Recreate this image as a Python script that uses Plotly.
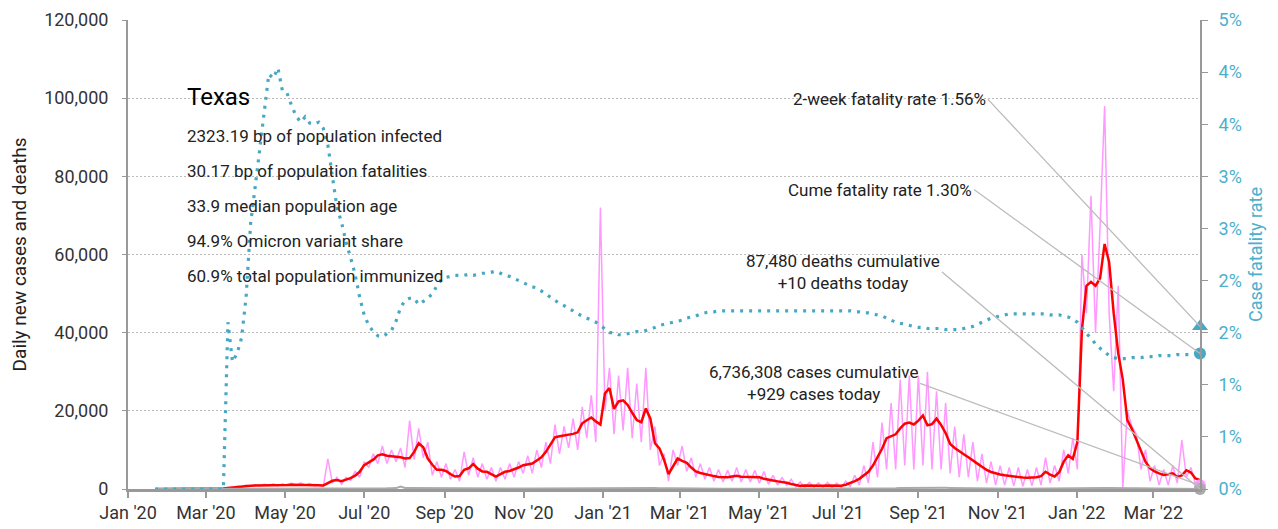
import pandas as pd
import plotly.graph_objects as go

FONT = "Roboto, Arial, sans-serif"
TEAL = "#46a8c4"
PINK = "#ff99ff"
RED = "#ff0000"
GRAY = "#aaaaaa"

# half-week grid starting Jan 22, 2020
START = "2020-01-22"
N_POINTS = 231

cases_raw = [
    0, 0, 0, 0, 0, 0, 0, 0, 0, 0,
    0, 0, 0, 20, 60, 150, 400, 350, 700, 600,
    1000, 700, 1100, 800, 1200, 900, 1300, 800, 1300, 900,
    1500, 900, 1600, 1000, 1400, 800, 1100, 700, 7700, 1500,
    3000, 1200, 3000, 2200, 4500, 3000, 7000, 5500, 9000, 6500,
    11000, 6500, 10000, 7000, 10500, 5500, 17500, 7500, 15500, 8000,
    12000, 3500, 7000, 3000, 6500, 2500, 5000, 2000, 9500, 3500,
    8000, 3000, 6500, 2500, 5500, 2000, 5500, 2500, 6500, 3000,
    7000, 4000, 8500, 4000, 10000, 5500, 12000, 6500, 16500, 9000,
    16000, 10500, 18000, 10000, 21000, 13000, 24000, 12000, 72000, 20000,
    31000, 14000, 29000, 15000, 31000, 13000, 27000, 12000, 31000, 10000,
    16000, 6000, 9000, 2000, 10000, 6000, 11000, 4500, 8000, 3000,
    6500, 2500, 5500, 2000, 5000, 1800, 4800, 2000, 5500, 1800,
    5000, 1800, 4800, 1500, 4500, 1200, 3500, 1000, 3000, 900,
    2500, 600, 1800, 400, 1700, 400, 1600, 400, 1700, 300,
    1500, 400, 2000, 600, 3500, 1000, 6000, 1500, 12000, 3000,
    17000, 5000, 22000, 5000, 28000, 6000, 29000, 5000, 29000, 6000,
    30000, 5000, 25000, 5000, 22000, 4000, 16000, 3000, 14000, 3000,
    12000, 2000, 9000, 1500, 7000, 1000, 6000, 1000, 5500, 800,
    5500, 700, 5000, 800, 5500, 1000, 8000, 1500, 6000, 2000,
    10000, 4000, 13000, 5000, 60000, 45000, 75000, 40000, 67000, 98000,
    45000, 25000, 52000, 0, 20000, 16000, 14000, 5000, 10000, 2000,
    6000, 1000, 5000, 1000, 6000, 1500, 12500, 3000, 5500, 1200,
    929,
]

cases_avg = [
    0, 0, 0, 0, 0, 0, 0, 0, 0, 0,
    0, 0, 0, 10, 30, 100, 250, 400, 550, 700,
    800, 850, 900, 900, 950, 1000, 1000, 1000, 1000, 1050,
    1100, 1100, 1100, 1100, 1100, 1000, 950, 900, 1500, 2100,
    2300, 2000, 2400, 2800, 3400, 4400, 6100, 6700, 7500, 8600,
    8900, 8500, 8400, 8300, 8100, 7800, 7900, 9500, 11700, 10700,
    7800, 6200, 4900, 4900, 4600, 3800, 3200, 3300, 4900, 5300,
    6400, 5200, 4500, 4400, 3700, 3200, 3800, 4400, 4600, 5000,
    5500, 6100, 6300, 6500, 7300, 8100, 9500, 11500, 13200, 13500,
    13700, 13900, 14100, 14500, 16800, 17600, 18300, 17300, 16500, 24500,
    25800, 20500, 22400, 22700, 21500, 19500, 17650, 17100, 20600, 18000,
    11700, 10400, 7500, 3800, 6000, 7800, 7200, 6700, 5500, 4500,
    4100, 3800, 3500, 3300, 3100, 3000, 3000, 3200, 3400, 3150,
    3100, 3000, 3000, 3000, 2600, 2300, 2150, 1950, 1800, 1600,
    1300, 1100, 800, 900, 850, 800, 780, 850, 900, 850,
    800, 850, 1100, 1500, 2000, 2600, 3400, 4400, 6000, 8000,
    10300, 13000, 13600, 14000, 15500, 16700, 17000, 16500, 17500, 18800,
    16300, 16600, 18000, 16400, 14300, 11500, 10500, 9600, 8900, 8100,
    7200, 6500, 5700, 4900, 4350, 4000, 3700, 3500, 3350, 3200,
    3000, 2950, 2900, 2900, 3000, 3300, 4400, 3700, 3200, 4300,
    7000, 8600, 7700, 12000, 40700, 52000, 53000, 52000, 53900, 62700,
    58000, 45000, 34700, 28000, 17650, 15400, 12500, 9500, 7000, 5300,
    4500, 4000, 3600, 3800, 4000, 3100, 3500, 4800, 4200, 2700,
    2300,
]

deaths = [
    0, 0, 0, 0, 0, 0, 0, 0, 0, 0,
    0, 0, 0, 0, 0, 0, 0, 2, 5, 8,
    12, 15, 18, 20, 22, 25, 25, 28, 30, 30,
    30, 30, 28, 28, 30, 30, 28, 25, 22, 20,
    20, 22, 25, 30, 40, 60, 80, 100, 120, 140,
    150, 170, 200, 230, 600, 260, 250, 240, 230, 230,
    220, 200, 180, 170, 150, 130, 110, 100, 90, 80,
    80, 70, 80, 90, 70, 70, 70, 60, 70, 80,
    80, 90, 90, 100, 120, 130, 150, 170, 200, 210,
    200, 210, 220, 230, 240, 260, 250, 270, 260, 250,
    300, 320, 340, 360, 380, 350, 330, 310, 300, 290,
    250, 220, 150, 200, 220, 190, 170, 140, 120, 100,
    90, 80, 70, 70, 60, 60, 50, 50, 45, 40,
    40, 40, 38, 35, 35, 32, 30, 30, 28, 25,
    25, 22, 20, 20, 18, 18, 18, 16, 15, 15,
    15, 15, 16, 18, 20, 25, 30, 40, 60, 80,
    100, 130, 170, 200, 250, 270, 280, 300, 320, 340,
    350, 300, 330, 400, 300, 280, 250, 220, 180, 160,
    150, 140, 120, 110, 100, 90, 80, 70, 60, 55,
    50, 50, 50, 45, 45, 45, 50, 55, 55, 60,
    60, 60, 50, 60, 80, 110, 130, 160, 200, 230,
    250, 270, 260, 250, 220, 200, 180, 160, 140, 110,
    90, 80, 70, 60, 50, 45, 40, 35, 30, 25,
    10,
]

cfr_pct = [
    0, 0, 0, 0, 0, 0, 0, 0, 0, 0,
    0, 0, 0, 0, 0, 0, 1.60, 1.22, 1.30, 1.45,
    1.84, 2.55, 2.90, 3.25, 3.65, 3.98, 3.94, 4.04, 3.82, 3.80,
    3.68, 3.58, 3.52, 3.57, 3.51, 3.50, 3.52, 3.46, 3.30, 2.98,
    2.70, 2.56, 2.37, 2.22, 2.06, 1.84, 1.67, 1.57, 1.51, 1.47,
    1.46, 1.49, 1.52, 1.61, 1.74, 1.81, 1.83, 1.83, 1.77, 1.80,
    1.84, 1.87, 1.95, 2.01, 2.03, 2.04, 2.05, 2.05, 2.05, 2.06,
    2.05, 2.06, 2.07, 2.07, 2.08, 2.09, 2.07, 2.05, 2.04, 2.02,
    2.00, 1.98, 1.96, 1.94, 1.93, 1.90, 1.87, 1.84, 1.81, 1.78,
    1.76, 1.73, 1.71, 1.68, 1.66, 1.64, 1.62, 1.60, 1.57, 1.53,
    1.50, 1.50, 1.48, 1.48, 1.49, 1.50, 1.51, 1.51, 1.52, 1.54,
    1.55, 1.57, 1.58, 1.59, 1.60, 1.61, 1.62, 1.64, 1.65, 1.66,
    1.68, 1.69, 1.70, 1.70, 1.71, 1.71, 1.71, 1.71, 1.71, 1.71,
    1.71, 1.71, 1.71, 1.71, 1.71, 1.71, 1.71, 1.71, 1.71, 1.71,
    1.71, 1.71, 1.71, 1.71, 1.71, 1.71, 1.71, 1.71, 1.71, 1.71,
    1.71, 1.71, 1.71, 1.71, 1.70, 1.70, 1.69, 1.69, 1.68, 1.67,
    1.66, 1.64, 1.62, 1.60, 1.59, 1.58, 1.57, 1.56, 1.55, 1.55,
    1.54, 1.54, 1.54, 1.54, 1.53, 1.53, 1.53, 1.53, 1.54, 1.55,
    1.56, 1.58, 1.60, 1.62, 1.64, 1.65, 1.66, 1.67, 1.68, 1.68,
    1.68, 1.68, 1.68, 1.68, 1.68, 1.68, 1.68, 1.67, 1.67, 1.67,
    1.66, 1.65, 1.63, 1.60, 1.55, 1.49, 1.45, 1.39, 1.35, 1.31,
    1.28, 1.26, 1.25, 1.25, 1.25, 1.26, 1.26, 1.26, 1.27, 1.27,
    1.27, 1.28, 1.28, 1.28, 1.28, 1.29, 1.29, 1.29, 1.29, 1.30,
    1.30,
]

two_week_cfr = 1.56
cume_cfr = 1.30
cases_today = 929
deaths_today = 10

state_name = "Texas"
state_stats = [
    "2323.19 bp of population infected",
    "30.17 bp of population fatalities",
    "33.9 median population age",
    "94.9% Omicron variant share",
    "60.9% total population immunized",
]

cfr_ticks = [0, 0.5, 1, 1.5, 2, 2.5, 3, 3.5, 4, 4.5]
cfr_ticktext = ["0%", "1%", "1%", "2%", "2%", "3%", "3%", "4%", "4%", "5%"]

dates = pd.date_range(START, periods=N_POINTS, freq="84h")
last = dates[-1]

fig = go.Figure()
fig.add_trace(go.Scatter(x=dates, y=cases_raw, mode="lines",
                         line=dict(color=PINK, width=1.5), name="cases"))
fig.add_trace(go.Scatter(x=dates, y=cases_avg, mode="lines",
                         line=dict(color=RED, width=2.5), name="cases 7d"))
fig.add_trace(go.Scatter(x=dates, y=deaths, mode="lines",
                         line=dict(color=GRAY, width=2), name="deaths"))
fig.add_trace(go.Scatter(x=dates, y=cfr_pct, mode="lines", yaxis="y2",
                         line=dict(color=TEAL, width=3.2, dash="3px,6px"), name="cfr"))

# end markers
fig.add_trace(go.Scatter(x=[last], y=[cases_today], mode="markers", cliponaxis=False,
                         marker=dict(color=PINK, size=12), name="cases today"))
fig.add_trace(go.Scatter(x=[last], y=[deaths_today], mode="markers", cliponaxis=False,
                         marker=dict(color=GRAY, size=12), name="deaths today"))
fig.add_trace(go.Scatter(x=[last], y=[cume_cfr], mode="markers", yaxis="y2", cliponaxis=False,
                         marker=dict(color=TEAL, size=12), name="cume cfr"))
fig.add_trace(go.Scatter(x=[last], y=[two_week_cfr], mode="markers", yaxis="y2", cliponaxis=False,
                         marker=dict(color=TEAL, size=14, symbol="triangle-up"), name="2wk cfr"))

ann = []
ann.append(dict(xref="paper", yref="paper", x=0.053, y=0.836, xanchor="left", yanchor="middle",
                text=state_name, showarrow=False, font=dict(size=24, color="#000000")))
for i, s in enumerate(state_stats):
    ann.append(dict(xref="paper", yref="paper", x=0.053, y=0.7527 - i * 0.0747,
                    xanchor="left", yanchor="middle", text=s, showarrow=False,
                    font=dict(size=17, color="#222222")))

arrow = dict(showarrow=True, arrowhead=0, arrowwidth=1.3, arrowcolor="#bbbbbb",
             standoff=0, xanchor="right", yanchor="middle", axref="pixel", ayref="pixel",
             font=dict(size=17, color="#222222"))
ann.append(dict(x=last, y=two_week_cfr, yref="y2", ax=-212, ay=-227,
                text=f"2-week fatality rate {two_week_cfr:.2f}%", **arrow))
ann.append(dict(x=last, y=cume_cfr, yref="y2", ax=-226, ay=-164,
                text=f"Cume fatality rate {cume_cfr:.2f}%", **arrow))
ann.append(dict(x=last, y=deaths_today, yref="y", ax=-258, ay=-217, align="center",
                text=f"87,480 deaths cumulative<br>+{deaths_today} deaths today", **arrow))
ann.append(dict(x=last, y=cases_today, yref="y", ax=-280, ay=-102, align="center",
                text=f"6,736,308 cases cumulative<br>+{cases_today} cases today", **arrow))

# the page body adds an 8px offset, so the figure is sized and margined to compensate
fig.update_layout(
    width=1270, height=521,
    margin=dict(l=120, r=78, t=12, b=40),
    paper_bgcolor="white", plot_bgcolor="white",
    font=dict(family=FONT, size=18, color="#333333"),
    showlegend=False,
    annotations=ann,
    xaxis=dict(range=["2020-01-01", last], tickformat="%b '%y", dtick="M2", tick0="2020-01-01",
               showgrid=False, showline=True, linecolor="#999999", linewidth=2.5,
               ticks="outside", tickcolor="#999999", ticklen=6, tickwidth=1.5,
               ticklabelstandoff=0,
               tickfont=dict(size=18, color="#333333"), automargin=False),
    yaxis=dict(range=[0, 120000], dtick=20000, tickformat=",",
               showgrid=True, gridcolor="#bbbbbb", griddash="2px,2px", gridwidth=1,
               zeroline=False, showline=True, linecolor="#999999", linewidth=2,
               ticks="outside", tickcolor="#999999", ticklen=4, automargin=False,
               ticklabelstandoff=10,
               tickfont=dict(size=18, color="#333333"),
               title=dict(text="Daily new cases and deaths", font=dict(size=19, color="#222222"),
                          standoff=14)),
    yaxis2=dict(range=[0, 4.5], overlaying="y", side="right",
                tickvals=cfr_ticks, ticktext=cfr_ticktext, automargin=False,
                showgrid=False, zeroline=False, showline=True, linecolor="#999999", linewidth=2,
                ticks="outside", tickcolor="#999999", ticklen=6,
                ticklabelstandoff=7,
                tickfont=dict(size=18, color="#4bb0cc"),
                title=dict(text="Case fatality rate", font=dict(size=18, color="#4bb0cc"),
                           standoff=8)),
)

fig.write_html("out.html")
